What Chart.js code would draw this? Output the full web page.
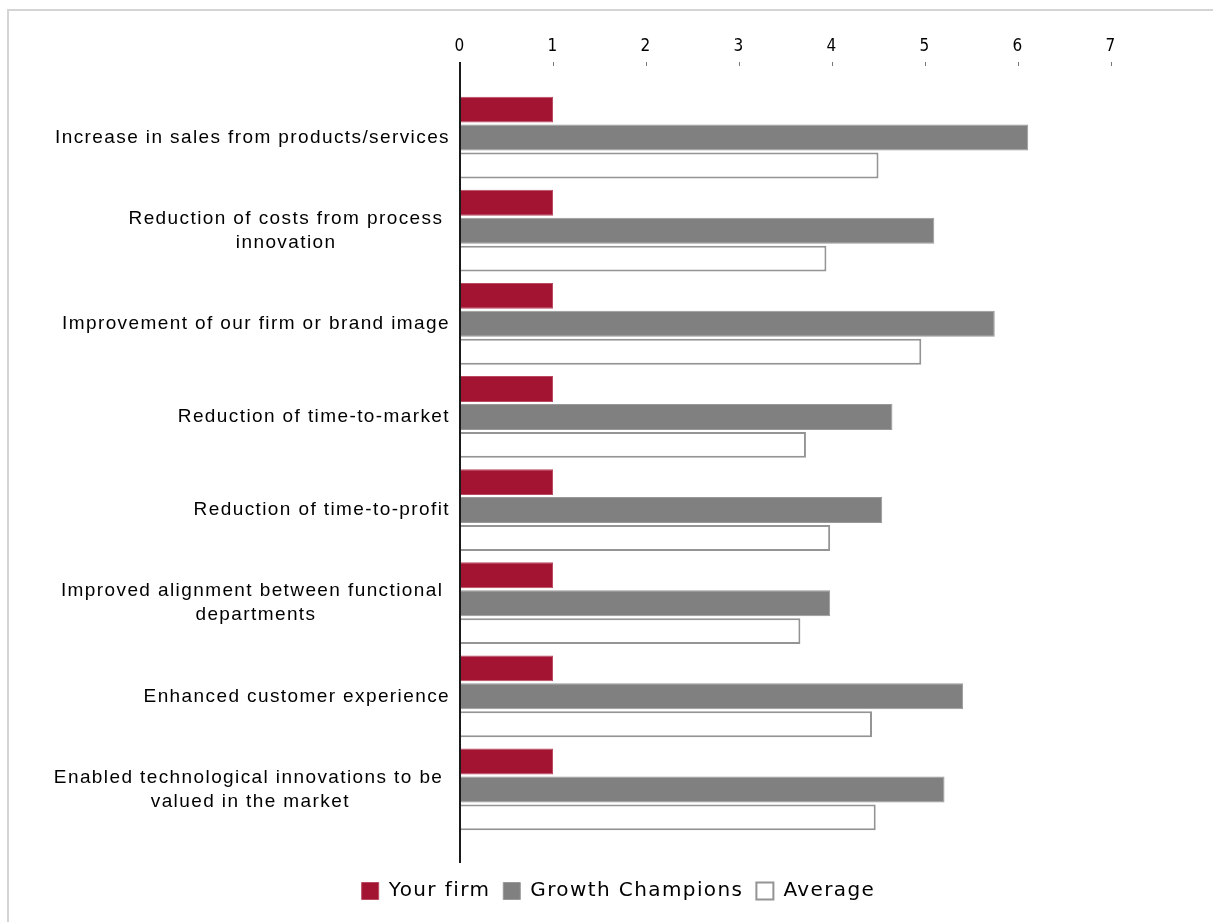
<!DOCTYPE html>
<html>
<head>
<meta charset="utf-8">
<script src="https://cdn.jsdelivr.net/npm/chart.js@4.4.1/dist/chart.umd.min.js"></script>
<style>
  body { margin: 0; background: #fff; overflow: hidden; }
  #wrap { position: absolute; left: 0; top: 0; width: 1213px; height: 922px; }
  #frame { position: absolute; left: 7px; top: 9px; right: 0; bottom: 0;
           border-left: 2px solid #d4d4d4; border-top: 2px solid #d4d4d4; pointer-events: none; }
</style>
</head>
<body>
<div id="wrap">
  <canvas id="chart"></canvas>
  <div id="frame"></div>
</div>
<script>
// Chart data
const categories = [
    ['Increase in sales from products/services'],
    ['Reduction of costs from process ', 'innovation'],
    ['Improvement of our firm or brand image'],
    ['Reduction of time-to-market'],
    ['Reduction of time-to-profit'],
    ['Improved alignment between functional ', 'departments'],
    ['Enhanced customer experience'],
    ['Enabled technological innovations to be ', 'valued in the market']
];
const seriesNames = ['Your firm', 'Growth Champions', 'Average'];
const yourFirm = [1, 1, 1, 1, 1, 1, 1, 1];
const growthChampions = [6.11, 5.10, 5.75, 4.65, 4.54, 3.98, 5.41, 5.21];
const average = [4.50, 3.94, 4.96, 3.72, 3.98, 3.66, 4.43, 4.47];
const xMin = 0;
const xMax = 7;

const spacing = '1.4px';
const labelFamily = '"Liberation Sans", Arial, sans-serif';
const labelSize = 19;

// centre the lines of a wrapped label against each other (block stays right aligned)
const measureCtx = document.createElement('canvas').getContext('2d');
function centreLines(lines) {
    if (!Array.isArray(lines) || lines.length < 2) return lines;
    measureCtx.font = labelSize + 'px ' + labelFamily;
    measureCtx.letterSpacing = spacing;
    const widths = lines.map(l => measureCtx.measureText(l).width);
    const maxW = Math.max(...widths);
    const sp = measureCtx.measureText(' ').width;
    return lines.map((l, i) => l + ' '.repeat(Math.round((maxW - widths[i]) / 2 / sp)));
}

// letter spacing, legend nudge and the long vertical axis line
const axisLine = {
    id: 'axisLine',
    beforeLayout(chart) { chart.ctx.letterSpacing = spacing; },
    afterLayout(chart) {
        const lg = chart.legend;
        lg.left += 63; lg.right += 63;
        lg.top += 5; lg.bottom += 5;
    },
    beforeDraw(chart) { chart.ctx.letterSpacing = spacing; },
    afterDatasetsDraw(chart) {
        const { ctx, scales } = chart;
        const x0 = Math.round(scales.x.getPixelForValue(0));
        ctx.save();
        ctx.strokeStyle = '#1a1a1a';
        ctx.lineWidth = 2;
        ctx.beginPath();
        ctx.moveTo(x0, scales.x.bottom - scales.x.options.grid.tickLength);
        ctx.lineTo(x0, scales.x2.bottom);
        ctx.stroke();
        ctx.restore();
    }
};

Chart.defaults.color = '#000';

new Chart(document.getElementById('chart'), {
    type: 'bar',
    data: {
        labels: categories,
        datasets: [{
            label: seriesNames[0],
            data: yourFirm,
            backgroundColor: '#a31432',
            borderColor: '#b94a62',
            borderWidth: 1
        }, {
            label: seriesNames[1],
            data: growthChampions,
            backgroundColor: '#808080',
            borderColor: '#999999',
            borderWidth: 1
        }, {
            label: seriesNames[2],
            data: average,
            backgroundColor: '#ffffff',
            borderColor: '#949494',
            borderWidth: 2
        }]
    },
    options: {
        indexAxis: 'y',
        responsive: true,
        maintainAspectRatio: false,
        animation: false,
        categoryPercentage: 0.9,
        barPercentage: 0.93,
        layout: {
            padding: { left: 0, right: 102, top: 0, bottom: 16 }
        },
        plugins: {
            legend: {
                position: 'bottom',
                labels: {
                    boxWidth: 17,
                    boxHeight: 17,
                    padding: 13,
                    color: '#000',
                    font: { family: '"DejaVu Sans", Verdana, sans-serif', size: 20 }
                }
            },
            tooltip: { enabled: false }
        },
        scales: {
            x: {
                position: 'top',
                min: xMin,
                max: xMax,
                ticks: {
                    stepSize: 1,
                    padding: 5,
                    color: '#000',
                    font: { family: '"Liberation Sans Narrow", "DejaVu Sans Condensed", sans-serif', size: 17 }
                },
                grid: {
                    drawOnChartArea: false,
                    tickLength: 29,
                    tickBorderDash: [4, 40],
                    tickColor: '#777',
                    tickWidth: 1
                },
                border: { display: false },
                afterFit(scale) { scale.height = 91; }
            },
            x2: {
                type: 'linear',
                axis: 'x',
                position: 'bottom',
                ticks: { display: false },
                grid: { display: false },
                border: { display: false },
                afterFit(scale) { scale.height = 27; }
            },
            y: {
                ticks: {
                    padding: 2,
                    color: '#000',
                    font: { family: labelFamily, size: labelSize, lineHeight: 1.263 },
                    callback(value) { return centreLines(this.getLabelForValue(value)); }
                },
                grid: { display: false },
                border: { display: false },
                afterFit(scale) { scale.width = 460; }
            }
        }
    },
    plugins: [axisLine]
});
</script>
</body>
</html>
